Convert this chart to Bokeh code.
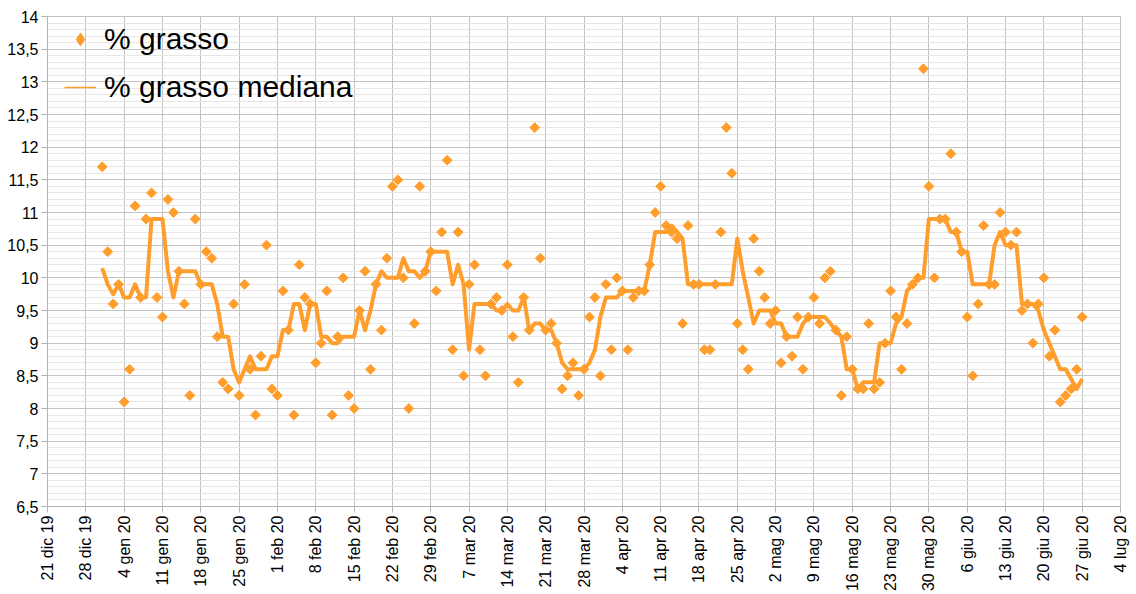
import math
from bokeh.plotting import figure
from bokeh.models import (ColumnDataSource, FixedTicker, Legend, LegendItem,
                          CustomJSTickFormatter, Range1d, CDSView, IndexFilter)
from bokeh.embed import file_html
from bokeh.resources import INLINE

# day index counted from 21 dic 2019 (day 0); series starts 31 dic 2019 (day 10)
first_day = 10
grasso = [
    11.7, 10.4, 9.6, 9.9,
    8.1, 8.6, 11.1, 9.7, 10.9, 11.3, 9.7,
    9.4, 11.2, 11.0, 10.1, 9.6, 8.2, 10.9,
    9.9, 10.4, 10.3, 9.1, 8.4, 8.3, 9.6,
    8.2, 9.9, 8.6, 7.9, 8.8, 10.5, 8.3,
    8.2, 9.8, 9.2, 7.9, 10.2, 9.7, 9.6,
    8.7, 9.0, 9.8, 7.9, 9.1, 10.0, 8.2,
    8.0, 9.5, 10.1, 8.6, 9.9, 9.2, 10.3,
    11.4, 11.5, 10.0, 8.0, 9.3, 11.4, 10.1,
    10.4, 9.8, 10.7, 11.8, 8.9, 10.7, 8.5,
    9.9, 10.2, 8.9, 8.5, 9.6, 9.7, 9.5,
    10.2, 9.1, 8.4, 9.7, 9.2, 12.3, 10.3,
    9.2, 9.3, 9.0, 8.3, 8.5, 8.7, 8.2,
    8.6, 9.4, 9.7, 8.5, 9.9, 8.9, 10.0,
    9.8, 8.9, 9.7, 9.8, 9.8, 10.2, 11.0,
    11.4, 10.8, 10.7, 10.6, 9.3, 10.8, 9.9,
    9.9, 8.9, 8.9, 9.9, 10.7, 12.3, 11.6,
    9.3, 8.9, 8.6, 10.6, 10.1, 9.7, 9.3,
    9.5, 8.7, 9.1, 8.8, 9.4, 8.6, 9.4,
    9.7, 9.3, 10.0, 10.1, 9.2, 8.2, 9.1,
    8.6, 8.3, 8.3, 9.3, 8.3, 8.4, 9.0,
    9.8, 9.4, 8.6, 9.3, 9.9, 10.0, 13.2,
    11.4, 10.0, 10.9, 10.9, 11.9, 10.7, 10.4,
    9.4, 8.5, 9.6, 10.8, 9.9, 9.9, 11.0,
    10.7, 10.5, 10.7, 9.5, 9.6, 9.0, 9.6,
    10.0, 8.8, 9.2, 8.1, 8.2, 8.3, 8.6,
    9.4,
]
mediana = [
    10.15, 9.9, 9.75, 9.9, 9.7, 9.7, 9.9, 9.7, 9.7, 10.9, 10.9, 10.9, 10.1, 9.7,
    10.1, 10.1, 10.1, 10.1, 9.9, 9.9, 9.9, 9.6, 9.1, 9.1, 8.6, 8.4, 8.6, 8.8,
    8.6, 8.6, 8.6, 8.8, 8.8, 9.2, 9.2, 9.6, 9.6, 9.2, 9.6, 9.6, 9.1, 9.1,
    9.0, 9.0, 9.1, 9.1, 9.1, 9.5, 9.2, 9.5, 9.9, 10.1, 10.0, 10.0, 10.0, 10.3,
    10.1, 10.1, 10.0, 10.1, 10.4, 10.4, 10.4, 10.4, 9.9, 10.2, 9.9, 8.9, 9.6, 9.6,
    9.6, 9.6, 9.5, 9.5, 9.6, 9.5, 9.5, 9.7, 9.2, 9.3, 9.3, 9.2, 9.2, 9.0,
    8.7, 8.6, 8.6, 8.6, 8.6, 8.7, 8.9, 9.4, 9.7, 9.7, 9.7, 9.8, 9.8, 9.8,
    9.8, 9.8, 10.2, 10.7, 10.7, 10.7, 10.8, 10.7, 10.6, 9.9, 9.9, 9.9, 9.9, 9.9,
    9.9, 9.9, 9.9, 9.9, 10.6, 10.1, 9.7, 9.3, 9.5, 9.5, 9.5, 9.3, 9.3, 9.1,
    9.1, 9.1, 9.3, 9.4, 9.4, 9.4, 9.4, 9.3, 9.2, 9.1, 8.6, 8.6, 8.3, 8.4,
    8.4, 8.4, 9.0, 9.0, 9.0, 9.3, 9.4, 9.8, 9.9, 10.0, 10.0, 10.9, 10.9, 10.9,
    10.9, 10.7, 10.7, 10.4, 10.4, 9.9, 9.9, 9.9, 9.9, 10.5, 10.7, 10.5, 10.5, 10.5,
    9.6, 9.6, 9.6, 9.5, 9.2, 9.0, 8.8, 8.6, 8.6, 8.45, 8.3, 8.45,
]
giorni = list(range(first_day, first_day + len(grasso)))

x_tick_labels = ["21 dic 19", "28 dic 19", "4 gen 20", "11 gen 20", "18 gen 20",
                 "25 gen 20", "1 feb 20", "8 feb 20", "15 feb 20", "22 feb 20",
                 "29 feb 20", "7 mar 20", "14 mar 20", "21 mar 20", "28 mar 20",
                 "4 apr 20", "11 apr 20", "18 apr 20", "25 apr 20", "2 mag 20",
                 "9 mag 20", "16 mag 20", "23 mag 20", "30 mag 20", "6 giu 20",
                 "13 giu 20", "20 giu 20", "27 giu 20", "4 lug 20"]
y_min, y_max = 6.5, 14.0

ORANGE = "#ff9e2c"
FONT = "Liberation Sans"

src = ColumnDataSource(data=dict(giorno=giorni, grasso=grasso, mediana=mediana))

p = figure(frame_width=1073, frame_height=490, output_backend="svg",
           toolbar_location=None,
           x_range=Range1d(0, 7 * (len(x_tick_labels) - 1)),
           y_range=Range1d(y_min, y_max),
           min_border_left=47, min_border_right=12, min_border_top=16,
           min_border_bottom=5)
p.background_fill_color = "white"
p.border_fill_color = "white"
p.outline_line_color = "#c0c0c0"

pts = p.scatter("giorno", "grasso", source=src, marker="square",
                angle=math.pi / 4, size=7, fill_color=ORANGE, line_color=ORANGE)
ln = p.line("giorno", "mediana", source=src, line_color=ORANGE, line_width=4,
            line_join="round")

# legend proxies: zero-size diamond and a single-point thin line draw nothing in the plot
first_only = CDSView(filter=IndexFilter([0]))
leg_pts = p.scatter("giorno", "grasso", source=src, view=first_only, marker="diamond",
                    size=0, fill_color=ORANGE, line_color=ORANGE)
leg_ln = p.line("giorno", "mediana", source=src, view=CDSView(filter=IndexFilter([0])),
                line_color=ORANGE, line_width=1.6)

x_ticks = [7 * i for i in range(len(x_tick_labels))]
p.xaxis.ticker = FixedTicker(ticks=x_ticks, minor_ticks=[])
p.xaxis.formatter = CustomJSTickFormatter(args=dict(labels=x_tick_labels),
                                          code="return labels[Math.round(tick/7)];")
p.xaxis.major_label_orientation = math.pi / 2

y_ticks = [y_min + 0.5 * i for i in range(int((y_max - y_min) / 0.5) + 1)]
y_minor = [round(y_min + 0.1 * i, 1) for i in range(int(round((y_max - y_min) / 0.1)) + 1)]
p.yaxis.ticker = FixedTicker(ticks=y_ticks, minor_ticks=y_minor)
p.yaxis.formatter = CustomJSTickFormatter(code="return tick.toString().replace('.', ',');")

for ax in (p.xaxis[0], p.yaxis[0]):
    ax.axis_line_color = "#b3b3b3"
    ax.major_tick_line_color = "#b3b3b3"
    ax.major_tick_out = 6
    ax.major_tick_in = 0
    ax.minor_tick_line_color = None
    ax.major_label_text_font = FONT
    ax.major_label_text_font_size = "16px"
    ax.major_label_text_color = "black"
    ax.major_label_standoff = 3

p.xgrid.grid_line_color = "#c4c4c4"
p.ygrid.grid_line_color = "#c4c4c4"
p.ygrid.minor_grid_line_color = "#e6e6e6"

legend = Legend(items=[LegendItem(label="% grasso", renderers=[leg_pts]),
                       LegendItem(label="% grasso mediana", renderers=[leg_ln])],
                location=(17, 402), padding=5, margin=0, spacing=14,
                glyph_width=32, glyph_height=32, label_height=30,
                label_standoff=8, label_text_font=FONT,
                label_text_font_size="30px", label_text_color="black",
                border_line_color=None, background_fill_alpha=0)
p.add_layout(legend)

open("out.html", "w").write(file_html(p, INLINE))
